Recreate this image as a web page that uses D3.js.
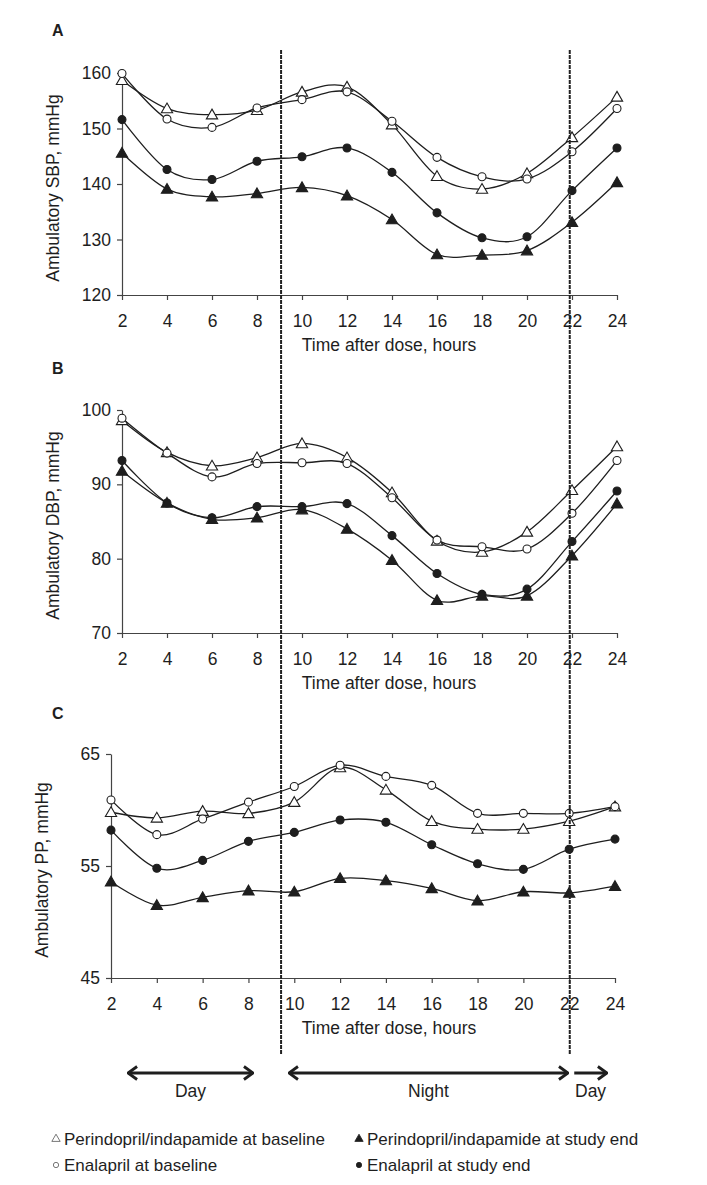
<!DOCTYPE html>
<html>
<head>
<meta charset="utf-8">
<script src="https://cdn.jsdelivr.net/npm/d3@7"></script>
<style>
body { margin: 0; background: #fff; }
text { font-family: "Liberation Sans", Arial, sans-serif; fill: #1e1e1e; }
</style>
</head>
<body>
<svg id="chart"></svg>
<script>
// Time after dose (hours)
const hours = [2, 4, 6, 8, 10, 12, 14, 16, 18, 20, 22, 24];

// A - ambulatory SBP
const sbpPeriBase = [158.7, 153.6, 152.5, 153.3, 156.6, 157.5, 150.7, 141.4, 139.1, 141.9, 148.4, 155.7];
const sbpEnalBase = [159.9, 151.7, 150.2, 153.7, 155.2, 156.6, 151.3, 144.8, 141.3, 140.9, 145.8, 153.6];
const sbpEnalEnd = [151.6, 142.6, 140.8, 144.1, 144.9, 146.5, 142.1, 134.8, 130.3, 130.5, 138.8, 146.5];
const sbpPeriEnd = [145.6, 139.1, 137.7, 138.3, 139.4, 137.9, 133.6, 127.3, 127.2, 128.0, 133.1, 140.3];

// B - ambulatory DBP
const dbpPeriBase = [98.6, 94.3, 92.5, 93.6, 95.5, 93.6, 88.9, 82.4, 80.9, 83.6, 89.2, 95.1];
const dbpEnalBase = [98.9, 94.2, 91.0, 92.8, 92.9, 92.8, 88.2, 82.5, 81.6, 81.3, 86.1, 93.2];
const dbpEnalEnd = [93.2, 87.5, 85.5, 87.0, 87.0, 87.4, 83.1, 78.0, 75.2, 75.9, 82.3, 89.1];
const dbpPeriEnd = [91.8, 87.5, 85.3, 85.5, 86.6, 84.0, 79.8, 74.4, 75.0, 75.0, 80.4, 87.4];

// C - ambulatory PP
const ppPeriBase = [59.8, 59.3, 59.9, 59.7, 60.7, 63.8, 61.8, 59.0, 58.3, 58.3, 59.0, 60.3];
const ppEnalBase = [60.9, 57.8, 59.2, 60.7, 62.1, 64.0, 63.0, 62.2, 59.7, 59.7, 59.7, 60.3];
const ppEnalEnd = [58.2, 54.8, 55.5, 57.2, 58.0, 59.1, 58.9, 56.9, 55.2, 54.7, 56.5, 57.4];
const ppPeriEnd = [53.6, 51.5, 52.2, 52.8, 52.7, 53.9, 53.7, 53.0, 51.9, 52.7, 52.6, 53.2];

const sbpTicks = [120, 130, 140, 150, 160];
const dbpTicks = [70, 80, 90, 100];
const ppTicks = [45, 55, 65];

const seriesNames = ["Perindopril/indapamide at baseline", "Perindopril/indapamide at study end",
                     "Enalapril at baseline", "Enalapril at study end"];
const periodLabels = ["Day", "Night", "Day"];
const periodFrom = [2.27, 9.42, 22.1];   // hours
const periodTo = [7.82, 21.82, 23.55];
const nightStart = 9.07, nightEnd = 21.9;

const width = 707, height = 1185;
const svg = d3.select("#chart").attr("width", width).attr("height", height);
const ink = "#1e1e1e";
const fs = 17.5;

// marker style per series: triangle / circle, open / filled
const styles = {
    periBase: { shape: d3.symbolTriangle, fill: "#fff" },
    periEnd: { shape: d3.symbolTriangle, fill: ink },
    enalBase: { shape: d3.symbolCircle, fill: "#fff" },
    enalEnd: { shape: d3.symbolCircle, fill: ink }
};

const panels = [
    { label: "A", title: "Ambulatory SBP, mmHg", ticks: sbpTicks, left: 122, right: 617, top: 73, bottom: 295, labelY: 30,
      data: { periBase: sbpPeriBase, enalBase: sbpEnalBase, enalEnd: sbpEnalEnd, periEnd: sbpPeriEnd } },
    { label: "B", title: "Ambulatory DBP, mmHg", ticks: dbpTicks, left: 122, right: 617, top: 410, bottom: 633, labelY: 368,
      data: { periBase: dbpPeriBase, enalBase: dbpEnalBase, enalEnd: dbpEnalEnd, periEnd: dbpPeriEnd } },
    { label: "C", title: "Ambulatory PP, mmHg", ticks: ppTicks, left: 111, right: 615, top: 754, bottom: 978, labelY: 713,
      data: { periBase: ppPeriBase, enalBase: ppEnalBase, enalEnd: ppEnalEnd, periEnd: ppPeriEnd } }
];

let xTop; // scale of panel A, used for the day/night lines and arrows

function drawPanel(p) {
    const x = d3.scaleLinear().domain([2, 24]).range([p.left, p.right]);
    const y = d3.scaleLinear().domain(d3.extent(p.ticks)).range([p.bottom, p.top]);
    if (!xTop) xTop = x;
    const g = svg.append("g");

    const xAxis = g.append("g").attr("transform", `translate(0,${p.bottom})`)
        .call(d3.axisBottom(x).tickValues(hours).tickSize(5).tickPadding(15).tickSizeOuter(0));
    const yAxis = g.append("g").attr("transform", `translate(${p.left},0)`)
        .call(d3.axisLeft(y).tickValues(p.ticks).tickSize(5).tickPadding(6).tickSizeOuter(0));
    [xAxis, yAxis].forEach(a => {
        a.selectAll("path, line").attr("stroke", "#444").attr("stroke-width", 1.2);
        a.selectAll("text").attr("font-size", fs).attr("font-family", "Liberation Sans, Arial, sans-serif").attr("fill", ink);
    });

    g.append("text").attr("x", 389).attr("y", p.bottom + 56)
        .attr("text-anchor", "middle").attr("font-size", fs).text("Time after dose, hours");
    g.append("text")
        .attr("transform", `translate(${p.left - 63},${(p.top + p.bottom) / 2 + 4}) rotate(-90)`)
        .attr("text-anchor", "middle").attr("font-size", fs).text(p.title);
    g.append("text").attr("x", 52).attr("y", p.labelY + 6)
        .attr("font-size", 16).attr("font-weight", "bold").text(p.label);

    const line = d3.line().x((d, i) => x(hours[i])).y(d => y(d)).curve(d3.curveCardinal.tension(0));
    Object.keys(p.data).forEach(k => {
        g.append("path").attr("d", line(p.data[k])).attr("fill", "none")
            .attr("stroke", ink).attr("stroke-width", 1.3);
    });
    Object.keys(p.data).forEach(k => {
        const st = styles[k];
        g.selectAll(null).data(p.data[k]).enter().append("path")
            .attr("d", d3.symbol().type(st.shape).size(st.shape === d3.symbolTriangle ? 55 : 50))
            .attr("transform", (d, i) => `translate(${x(hours[i])},${y(d) + (st.shape === d3.symbolTriangle ? 1 : 0)})`)
            .attr("fill", st.fill).attr("stroke", ink).attr("stroke-width", 1.1);
    });
}

panels.forEach(drawPanel);

// day / night boundaries
[nightStart, nightEnd].forEach(h => {
    svg.append("line").attr("x1", xTop(h)).attr("x2", xTop(h)).attr("y1", 50).attr("y2", 1054)
        .attr("stroke", "#222").attr("stroke-width", 2).attr("stroke-dasharray", "4,1");
});

// arrows
const defs = svg.append("defs");
defs.append("marker").attr("id", "head").attr("viewBox", "0 0 12 16")
    .attr("refX", 11).attr("refY", 8).attr("markerWidth", 12).attr("markerHeight", 16)
    .attr("markerUnits", "userSpaceOnUse").attr("orient", "auto-start-reverse")
    .append("path").attr("d", "M2,1.5 L11,8 L2,14.5").attr("fill", "none")
    .attr("stroke", ink).attr("stroke-width", 2.8);

const arrowY = 1073;
periodLabels.forEach((lab, i) => {
    const a = svg.append("line")
        .attr("x1", xTop(periodFrom[i])).attr("x2", xTop(periodTo[i]))
        .attr("y1", arrowY).attr("y2", arrowY)
        .attr("stroke", ink).attr("stroke-width", 2.8)
        .attr("marker-end", "url(#head)");
    if (i < 2) a.attr("marker-start", "url(#head)");
    svg.append("text").attr("x", xTop((periodFrom[i] + periodTo[i]) / 2)).attr("y", arrowY + 24)
        .attr("text-anchor", "middle").attr("font-size", fs).text(lab);
});

// legend
const legendKeys = ["periBase", "periEnd", "enalBase", "enalEnd"];
const legendX = [56, 359], legendY = [1139, 1165];
legendKeys.forEach((k, i) => {
    const lx = legendX[i % 2], ly = legendY[Math.floor(i / 2)];
    const st = styles[k];
    svg.append("path")
        .attr("d", d3.symbol().type(st.shape).size(st.shape === d3.symbolTriangle ? 30 : 22))
        .attr("transform", `translate(${lx},${ly})`)
        .attr("fill", st.fill).attr("stroke", st.fill === "#fff" ? "#555" : ink).attr("stroke-width", 0.8);
    svg.append("text").attr("x", lx + 8).attr("y", ly + 6).attr("font-size", 17).text(seriesNames[i]);
});
</script>
</body>
</html>
